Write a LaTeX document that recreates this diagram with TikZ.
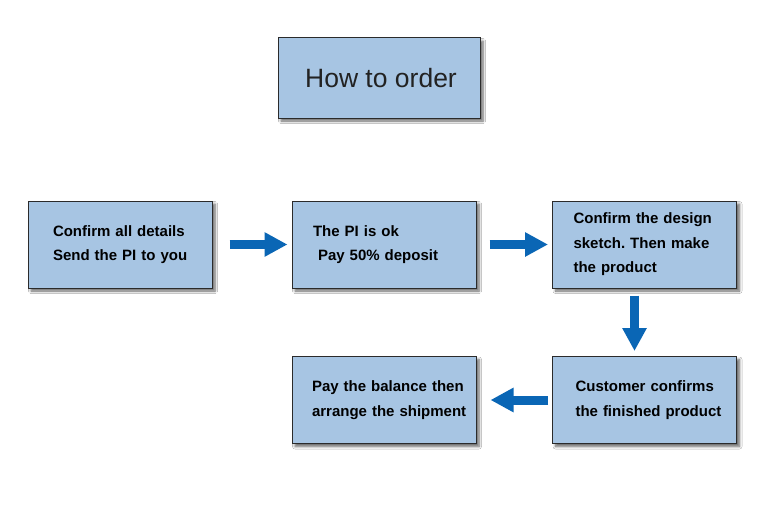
\documentclass[tikz,border=0pt]{standalone}
\usepackage{fontspec}
\setmainfont{Liberation Sans}
\usetikzlibrary{arrows.meta,shadows.blur}
\definecolor{boxfill}{HTML}{A7C5E3}
\definecolor{boxline}{HTML}{2B2B2B}
\definecolor{arrowblue}{HTML}{0A66B5}
\definecolor{titletext}{HTML}{222222}
\newcommand{\ind}[1]{\hspace*{#1pt}}
\frenchspacing
\tikzset{
  stepbox/.style={draw=boxline, line width=1pt, fill=boxfill, minimum width=184pt, minimum height=87pt,
    inner sep=0pt, align=left, text width=170pt,
    font=\fontsize{15}{24.5}\selectfont\bfseries, text=black,
    blur shadow={shadow xshift=3pt, shadow yshift=-3pt, shadow blur steps=6, shadow blur radius=2.5pt, shadow opacity=60}},
  titlebox/.style={draw=boxline, line width=1pt, fill=boxfill, minimum width=202pt, minimum height=80pt,
    inner sep=0pt, font=\fontsize{26.5}{30}\selectfont, text=titletext,
    blur shadow={shadow xshift=3pt, shadow yshift=-3pt, shadow blur steps=6, shadow blur radius=2.5pt, shadow opacity=60}},
  flowarrow/.style={draw=arrowblue, line width=9pt, -{Triangle[length=23pt,width=23pt]}, arrowblue}
}
\begin{document}
\begin{tikzpicture}[x=1pt,y=-1pt]
\useasboundingbox[fill=white] (0,0) rectangle (778,508);
\node[titlebox] (title) at (379,78) {\hspace*{4pt}How to order};
\node[stepbox] (b1) at (120,244.5) {\ind{18}Confirm all details\\\ind{18}Send the PI to you};
\node[stepbox] (b2) at (384,244.5) {\ind{14}The PI is ok\\\ind{19}Pay 50\% deposit};
\node[stepbox] (b3) at (644.5,244.5) {\ind{14}Confirm the design\\\ind{14}sketch. Then make\\\ind{14}the product};
\node[stepbox] (b4) at (644.5,400) {\ind{16}Customer confirms\\\ind{16}the finished product};
\node[stepbox] (b5) at (384,400) {\ind{13}Pay the balance then\\\ind{13}arrange the shipment};
\draw[flowarrow, shorten <=17pt, shorten >=4pt] (b1.east) -- (b2.west);
\draw[flowarrow, shorten <=13pt, shorten >=4pt] (b2.east) -- (b3.west);
\draw[flowarrow, shorten <=7pt, shorten >=5pt] ([xshift=-10pt]b3.south) -- ([xshift=-10pt]b4.north);
\draw[flowarrow, shorten <=4pt, shorten >=14pt] (b4.west) -- (b5.east);
\end{tikzpicture}
\end{document}
